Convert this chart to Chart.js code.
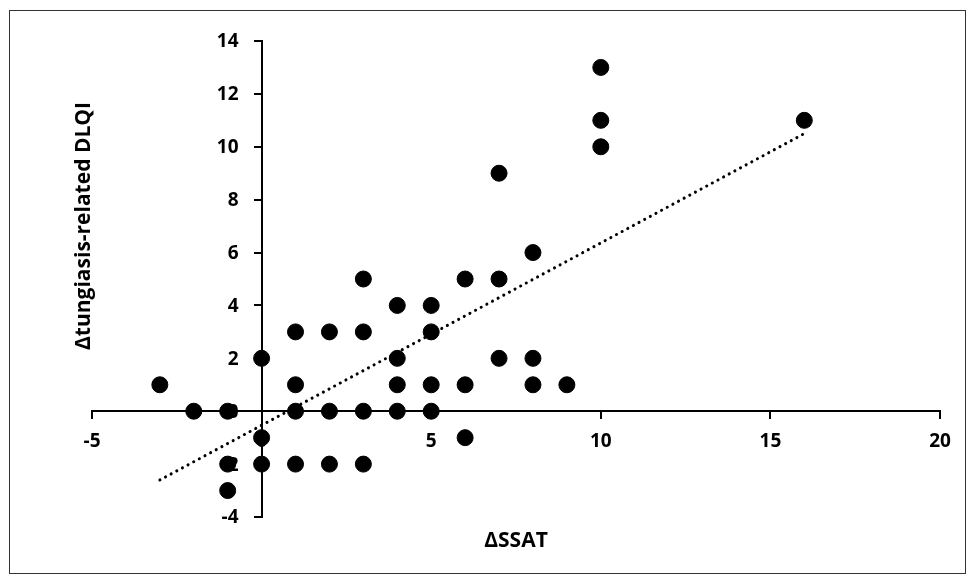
<!DOCTYPE html>
<html>
<head>
<meta charset="utf-8">
<script src="https://cdn.jsdelivr.net/npm/chart.js@4"></script>
<style>
    html, body { margin: 0; padding: 0; background: #fff; }
    #wrap { width: 974px; height: 584px; }
</style>
</head>
<body>
<div id="wrap"><canvas id="scatterChart" width="974" height="584"></canvas></div>
<script>
// ΔSSAT (x) vs Δtungiasis-related DLQI (y)
const ssat = [-3, -2, -1, -1, -1, 0, 0, 0, 1, 1, 1, 1, 2, 2, 2, 3, 3, 3, 3, 4, 4, 4, 4, 5, 5, 5, 5, 6, 6, 6, 7, 7, 7, 8, 8, 8, 9, 10, 10, 10, 16];
const dlqi = [1, 0, 0, -2, -3, 2, -1, -2, 3, 1, 0, -2, 3, 0, -2, 5, 3, 0, -2, 4, 2, 1, 0, 4, 3, 1, 0, 5, 1, -1, 9, 5, 2, 6, 2, 1, 1, 13, 11, 10, 11];

// trend line end points
const trendX = [-3, 16];
const trendY = [-2.6, 10.5];

const xTicks = [-5, 0, 5, 10, 15, 20];
const yTicks = [-4, -2, 0, 2, 4, 6, 8, 10, 12, 14];

const FONT = '"Open Sans", "Liberation Sans", sans-serif';

// y tick labels sit left of the crossing axis (chart.js skips padding for centred axes)
const yLabelPlugin = {
    id: 'yLabels',
    beforeDatasetsDraw(chart) {
        const ctx = chart.ctx;
        const xs = chart.scales.x;
        const ys = chart.scales.y;
        const axisX = xs.getPixelForValue(0);
        ctx.save();
        ctx.fillStyle = '#000';
        ctx.font = 'bold 19px ' + FONT;
        ctx.textAlign = 'right';
        ctx.textBaseline = 'middle';
        yTicks.forEach(v => {
            ctx.fillText(String(v), axisX - 23, ys.getPixelForValue(v) + 1);
        });
        ctx.restore();
    }
};

// outer frame + axis titles
const decorPlugin = {
    id: 'decor',
    afterDraw(chart) {
        const ctx = chart.ctx;
        ctx.save();
        ctx.strokeStyle = '#333';
        ctx.lineWidth = 1;
        ctx.strokeRect(9.5, 10.5, 956, 563);

        ctx.fillStyle = '#000';
        ctx.font = 'bold 21px ' + FONT;
        ctx.textAlign = 'center';
        ctx.textBaseline = 'middle';
        ctx.fillText('ΔSSAT', 516, 541);

        ctx.translate(84, 226);
        ctx.rotate(-Math.PI / 2);
        ctx.fillText('Δtungiasis-related DLQI', 0, 0);
        ctx.restore();
    }
};

const ctx = document.getElementById('scatterChart').getContext('2d');
new Chart(ctx, {
    type: 'scatter',
    data: {
        datasets: [
            {
                label: 'DLQI',
                data: ssat.map((x, i) => ({ x: x, y: dlqi[i] })),
                backgroundColor: '#000',
                borderColor: '#000',
                pointRadius: 8,
                pointHoverRadius: 8
            },
            {
                label: 'Trend',
                type: 'line',
                data: trendX.map((x, i) => ({ x: x, y: trendY[i] })),
                borderColor: '#000',
                borderWidth: 3,
                borderDash: [0.1, 6.3],
                borderCapStyle: 'round',
                pointRadius: 0,
                fill: false
            }
        ]
    },
    options: {
        responsive: false,
        animation: false,
        layout: {
            padding: { left: 92, right: 34, top: 41, bottom: 67 }
        },
        plugins: {
            legend: { display: false },
            tooltip: { enabled: false }
        },
        scales: {
            x: {
                type: 'linear',
                position: { y: 0 },
                min: -5,
                max: 20,
                afterFit: s => { s.height = 0; },
                afterBuildTicks: s => { s.ticks = xTicks.map(v => ({ value: v })); },
                grid: { drawOnChartArea: false, drawTicks: true, tickLength: 7, color: '#000', lineWidth: 2 },
                border: { display: true, color: '#000', width: 2 },
                ticks: {
                    color: '#000',
                    padding: 12,
                    maxRotation: 0,
                    font: { family: FONT, size: 19, weight: 'bold' }
                }
            },
            y: {
                type: 'linear',
                position: { x: 0 },
                min: -4,
                max: 14,
                afterFit: s => { s.width = 0; },
                afterBuildTicks: s => { s.ticks = yTicks.map(v => ({ value: v })); },
                grid: { drawOnChartArea: false, drawTicks: true, tickLength: 7, color: '#000', lineWidth: 2 },
                border: { display: true, color: '#000', width: 2 },
                ticks: { display: false }
            }
        }
    },
    plugins: [yLabelPlugin, decorPlugin]
});
</script>
</body>
</html>
